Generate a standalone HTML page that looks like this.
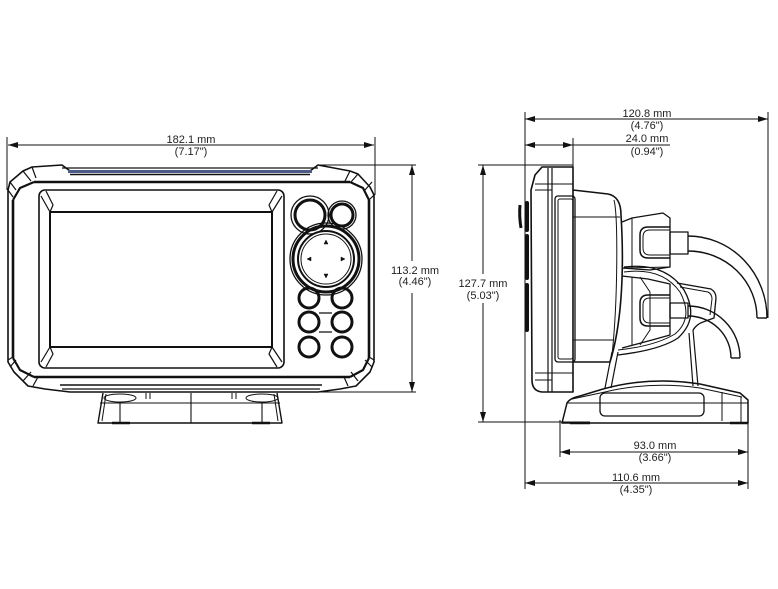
<!DOCTYPE html>
<html><head><meta charset="utf-8"><style>
html,body{margin:0;padding:0;background:#fff;}
svg{display:block;}
text{font-family:"Liberation Sans",sans-serif;font-size:11px;fill:#222;text-anchor:middle;}
</style></head><body>
<svg width="778" height="589" viewBox="0 0 778 589" xmlns="http://www.w3.org/2000/svg">
<defs>
<marker id="ar" markerUnits="userSpaceOnUse" markerWidth="10" markerHeight="6" refX="10" refY="3" orient="auto-start-reverse"><path d="M0,0 L10,3 L0,6 Z" fill="#111"/></marker>
</defs>
<rect width="778" height="589" fill="#fff"/>

<!-- ============ FRONT VIEW ============ -->
<g fill="none" stroke="#111" stroke-linejoin="round">
<!-- dims -->
<line x1="7" y1="137" x2="7" y2="190" stroke-width="1"/>
<line x1="375" y1="137" x2="375" y2="195" stroke-width="1"/>
<line x1="8" y1="145" x2="374" y2="145" stroke-width="1" marker-start="url(#ar)" marker-end="url(#ar)"/>
<line x1="318" y1="165" x2="416" y2="165" stroke-width="1"/>
<line x1="318" y1="392" x2="416" y2="392" stroke-width="1"/>
<line x1="412" y1="165" x2="412" y2="261" stroke-width="1" marker-start="url(#ar)"/>
<line x1="412" y1="293" x2="412" y2="392" stroke-width="1" marker-end="url(#ar)"/>

<!-- outer body -->
<path d="M8,190 L10,182 L23,171 L32,167 L62,165 L70,171 L310,171 L318,165 L350,171 L358,174 L370,187 L374,195 L374,362 L370,372 L356,386 L340,389 L318,392 L70,392 L45,389 L28,386 L14,372 L8,362 Z" stroke-width="1.6"/>
<line x1="62" y1="168" x2="318" y2="168" stroke-width="1.2"/>
<rect x="68" y="170" width="244" height="3" fill="#4b5a86" stroke="none"/>
<line x1="70" y1="174.5" x2="310" y2="174.5" stroke-width="1.4"/>
<!-- inner body thick -->
<path d="M13,200 L13,358 M34,182 L350,182 M369,200 L369,358 M34,377 L350,377" stroke-width="2.6"/>
<path d="M13,200 L20,188 L34,182 M350,182 L363,188 L369,200 M369,358 L363,370 L350,377 M34,377 L20,370 L13,358" stroke-width="2.2"/>
<line x1="60" y1="385" x2="322" y2="385" stroke-width="1.6"/>
<line x1="62" y1="389" x2="320" y2="389" stroke-width="1.2"/>
<!-- corner bumpers -->
<path d="M10,182 L16,190 M23,171 L31,181 M32,167 L36,178 M8,190 L13,197" stroke-width="1.2"/>
<path d="M372,182 L365,190 M358,174 L351,182 M350,171 L345,181 M374,195 L369,200" stroke-width="1.2"/>
<path d="M10,367 L16,360 M23,381 L31,372 M33,386 L38,377 M8,360 L13,357" stroke-width="1.2"/>
<path d="M372,367 L365,360 M358,381 L351,372 M348,386 L344,377 M374,360 L369,357" stroke-width="1.2"/>
<!-- screen bezel -->
<rect x="39" y="190" width="245" height="178" rx="6" stroke-width="1.6"/>
<rect x="50" y="212" width="222" height="135" stroke-width="2"/>
<path d="M41,196 L50,212 M46,191 L53,205 L50,212" stroke-width="1.2"/>
<path d="M282,196 L272,212 M277,191 L269,205 L272,212" stroke-width="1.2"/>
<path d="M41,362 L50,347 M46,367 L53,354 L50,347" stroke-width="1.2"/>
<path d="M282,362 L272,347 M277,367 L269,354 L272,347" stroke-width="1.2"/>

<!-- buttons -->
<circle cx="310" cy="215" r="19" stroke-width="1.3"/>
<circle cx="310" cy="215" r="15" stroke-width="3"/>
<circle cx="342" cy="215" r="14" stroke-width="1.3"/>
<circle cx="342" cy="215" r="11" stroke-width="3"/>
<circle cx="326" cy="259" r="36" stroke-width="1.3"/>
<circle cx="326" cy="259" r="33" stroke-width="3"/>
<circle cx="326" cy="259" r="28" stroke-width="2"/>
<circle cx="326" cy="259" r="25" stroke-width="1"/>
<path d="M324,244 L328,244 L326,240 Z M324,274 L328,274 L326,278 Z M311,257 L311,261 L307,259 Z M341,257 L341,261 L345,259 Z" fill="#111" stroke-width="0.5"/>
<g stroke-width="3">
<circle cx="309" cy="298" r="10"/><circle cx="342" cy="298" r="10"/>
<circle cx="309" cy="322" r="10"/><circle cx="342" cy="322" r="10"/>
<circle cx="309" cy="347" r="10"/><circle cx="342" cy="347" r="10"/>
</g>
<path d="M319,313 L332,313 M319,332 L332,332" stroke-width="1.3"/>

<!-- stand front -->
<path d="M103,393 L98,423 L282,423 L277,393" stroke-width="1.4"/>
<line x1="100" y1="403" x2="280" y2="403" stroke-width="1.1"/>
<line x1="191" y1="393" x2="191" y2="423" stroke-width="1.1"/>
<line x1="120" y1="403" x2="120" y2="423" stroke-width="1.1"/>
<line x1="262" y1="403" x2="262" y2="423" stroke-width="1.1"/>
<ellipse cx="120" cy="398" rx="16" ry="4" stroke-width="1"/>
<ellipse cx="262" cy="398" rx="16" ry="4" stroke-width="1"/>
<path d="M106,394 L102,421 M274,394 L278,421 M146,393 L146,399 M150,393 L150,399 M232,393 L232,399 M236,393 L236,399" stroke-width="1"/>
<path d="M112,423 L130,423 M252,423 L270,423" stroke-width="2.5"/>
</g>

<text x="191" y="143">182.1 mm</text>
<text x="191" y="155">(7.17")</text>
<text x="415" y="274">113.2 mm</text>
<text x="415" y="285">(4.46")</text>

<!-- ============ SIDE VIEW ============ -->
<g fill="none" stroke="#111" stroke-linejoin="round">
<!-- dims -->
<line x1="525" y1="112" x2="525" y2="489" stroke-width="1"/>
<line x1="768" y1="112" x2="768" y2="318" stroke-width="1"/>
<line x1="525" y1="119" x2="768" y2="119" stroke-width="1" marker-start="url(#ar)" marker-end="url(#ar)"/>
<line x1="573" y1="138" x2="573" y2="168" stroke-width="1"/>
<line x1="525" y1="145" x2="573" y2="145" stroke-width="1" marker-start="url(#ar)" marker-end="url(#ar)"/>
<line x1="573" y1="145" x2="670" y2="145" stroke-width="1"/>
<line x1="478" y1="165" x2="573" y2="165" stroke-width="1"/>
<line x1="478" y1="422" x2="590" y2="422" stroke-width="1"/>
<line x1="483" y1="165" x2="483" y2="274" stroke-width="1" marker-start="url(#ar)"/>
<line x1="483" y1="303" x2="483" y2="422" stroke-width="1" marker-end="url(#ar)"/>
<line x1="560" y1="420" x2="560" y2="457" stroke-width="1"/>
<line x1="748" y1="420" x2="748" y2="489" stroke-width="1"/>
<line x1="560" y1="452" x2="748" y2="452" stroke-width="1" marker-start="url(#ar)" marker-end="url(#ar)"/>
<line x1="525" y1="483" x2="748" y2="483" stroke-width="1" marker-start="url(#ar)" marker-end="url(#ar)"/>

<!-- front bezel -->
<path d="M542,167 L573,167 L573,392 L542,392 Q532,391 532,380 L531,190 L535,175 Z" stroke-width="1.6"/>
<path d="M548,168 L548,392 M552,168 L552,392" stroke-width="1.2"/>
<path d="M535,184 L573,184 M535,190 L552,190 M535,373 L573,373 M535,380 L552,380" stroke-width="1"/>
<rect x="555" y="196" width="20" height="166" rx="3" stroke-width="1.3"/>
<rect x="558" y="199" width="15" height="160" rx="2" stroke-width="1"/>
<path d="M527,203 L527,230 M527,236 L527,278 M527,285 L527,330" stroke-width="4" stroke-linecap="round"/>
<path d="M520,205 Q519,216 521,228" stroke-width="3"/>

<!-- rear housing -->
<path d="M573,190 L608,194 C618,196 621,205 621,215 C625,280 620,330 610,362 L573,362" stroke-width="1.6"/>
<path d="M573,217 L620,217 M573,340 L613,340" stroke-width="1.1"/>
<path d="M614,200 C618,215 618,300 612,355" stroke-width="1"/>

<!-- connector blocks -->
<path d="M622,222 L632,218 L663,213 L670,218 L670,267 L650,270 L622,268" stroke-width="1.3"/>
<path d="M632,218 L632,268 M622,268 L670,267" stroke-width="1"/>
<path d="M670,227 L648,227 Q640,227 640,235 L640,250 Q640,258 648,258 L670,258" stroke-width="1.5"/>
<path d="M670,230 L650,230 Q643,230 643,237 L643,248 Q643,255 650,255 L670,255" stroke-width="1"/>
<rect x="670" y="232" width="18" height="22" stroke-width="1.3"/>

<path d="M622,276 L648,279 L670,284 L670,335 L652,340 L622,348" stroke-width="1.3"/>
<path d="M632,277 L632,346 M640,277 L650,292 L650,330 L640,345" stroke-width="1"/>
<path d="M670,295 L648,295 Q640,295 640,303 L640,318 Q640,326 648,326 L670,326" stroke-width="1.5"/>
<path d="M670,298 L650,298 Q643,298 643,305 L643,316 Q643,323 650,323 L670,323" stroke-width="1"/>
<rect x="670" y="303" width="18" height="15" stroke-width="1.3"/>

<!-- band around lower connector -->
<path d="M624,267 Q665,262 684,290 Q700,318 678,338 Q660,350 618,355" stroke-width="1.3"/>
<path d="M624,272 Q662,267 680,292 Q694,318 675,334 Q655,346 618,350" stroke-width="1"/>
<!-- clamp -->
<path d="M677,283 L711,289 Q716,292 716,298 L714,318 L703,322 Q697,324 693,330" stroke-width="1.3"/>
<path d="M680,287 L708,292 Q712,294 712,299 L710,315" stroke-width="1"/>

<!-- cables -->
<path d="M688,236 A79,82 0 0 1 767,318" stroke-width="1.4"/>
<path d="M688,251 A69,67 0 0 1 757,318" stroke-width="1.4"/>
<line x1="757" y1="318" x2="767" y2="318" stroke-width="1.4"/>
<path d="M688,306 A52,52 0 0 1 740,358" stroke-width="1.4"/>
<path d="M688,316 A43,42 0 0 1 731,358" stroke-width="1.4"/>
<line x1="731" y1="358" x2="740" y2="358" stroke-width="1.4"/>

<!-- neck -->
<path d="M612,352 L605,388 M618,352 L611,388" stroke-width="1.2"/>
<path d="M693,330 L698,386 M689,333 L693,386" stroke-width="1.2"/>

<!-- base -->
<path d="M562,423 L567,403 Q570,398 580,396 L603,389 Q650,376 700,384 L740,393 L748,400 L748,423 Z" stroke-width="1.5"/>
<path d="M567,403 L748,403" stroke-width="1"/>
<path d="M572,399 L605,392 Q650,381 700,388 L742,397" stroke-width="1"/>
<rect x="600" y="393" width="104" height="23" rx="5" stroke-width="1.3"/>
<path d="M722,392 L722,421 M741,397 L741,423" stroke-width="1"/>
<path d="M570,423 L590,423 M730,423 L748,423" stroke-width="2.5"/>
</g>

<text x="647" y="117">120.8 mm</text>
<text x="647" y="129">(4.76")</text>
<text x="647" y="142">24.0 mm</text>
<text x="647" y="155">(0.94")</text>
<text x="483" y="287">127.7 mm</text>
<text x="483" y="299">(5.03")</text>
<text x="655" y="449">93.0 mm</text>
<text x="655" y="461">(3.66")</text>
<text x="636" y="481">110.6 mm</text>
<text x="636" y="493">(4.35")</text>
</svg>
</body></html>
